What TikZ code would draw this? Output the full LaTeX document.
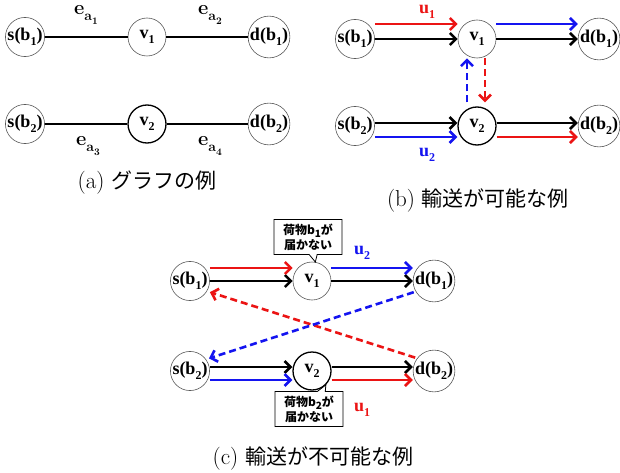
\documentclass[tikz,border=0pt]{standalone}
\usepackage{fontspec}
\setmainfont{Liberation Serif}
\newfontfamily\cjk{Noto Sans CJK JP}
\newfontfamily\lmr{Latin Modern Roman}
\usetikzlibrary{arrows.meta,shapes.callouts}

\definecolor{rred}{RGB}{235,20,20}
\definecolor{bblue}{RGB}{20,20,240}

% lowered index digit / letter
\newcommand\lowidx[2][12]{\raisebox{-0.28em}{\fontsize{#1}{#1}\selectfont #2}}
% edge label e_{a_k}
\newcommand\edgelbl[1]{{\lmr\bfseries e\lowidx[14]{a\lowidx[10]{#1}}}}

\tikzset{
  vtx/.style={circle, draw=black!65, line width=0.6pt, minimum size=38pt,
    inner sep=0pt, font=\fontsize{18}{18}\selectfont\bfseries},
  vtxb/.style={vtx, draw=black, line width=1.3pt},
  link/.style={line width=2.8pt},
  arr/.style={line width=2.6pt, -{Straight Barb[length=6pt,width=12pt]}},
  dsh/.style={dash pattern=on 7pt off 4pt},
  ulbl/.style={font=\fontsize{18}{18}\selectfont\bfseries},
  elbl/.style={font=\fontsize{20}{20}\selectfont},
  capt/.style={font=\fontsize{21}{21}\selectfont},
  note/.style={rectangle callout, draw=black, line width=0.8pt, fill=white,
    minimum width=68pt, minimum height=35pt, inner sep=2pt, align=center,
    callout pointer width=8pt,
    font=\cjk\bfseries\fontsize{12}{15}\selectfont}
}

\begin{document}
\begin{tikzpicture}[x=1pt,y=-1pt]
\useasboundingbox (0,0) rectangle (620,473);

% ---------- (a) graph ----------
\node[vtx]  (sa1) at (25,37)   {s(b\lowidx{1})};
\node[vtx]  (va1) at (147,37)  {v\lowidx{1}};
\node[vtx]  (da1) at (269,37)  {d(b\lowidx{1})};
\node[vtx]  (sa2) at (25,124)  {s(b\lowidx{2})};
\node[vtxb] (va2) at (147,124) {v\lowidx{2}};
\node[vtx]  (da2) at (269,124) {d(b\lowidx{2})};
\draw[link] (sa1) -- (va1);
\draw[link] (va1) -- (da1);
\draw[link] (sa2) -- (va2);
\draw[link] (va2) -- (da2);
\node[elbl] (ea1) at (86,15)  {\edgelbl{1}};
\node[elbl] (ea2) at (210,15) {\edgelbl{2}};
\node[elbl] (ea3) at (88,146) {\edgelbl{3}};
\node[elbl] (ea4) at (210,146) {\edgelbl{4}};
\node[capt] (capa) at (147,183) {\lmr\fontsize{23}{23}\selectfont(a) \cjk\fontsize{21}{21}\selectfont グラフの例};

% ---------- (b) feasible ----------
\node[vtx]  (sb1) at (355,39)  {s(b\lowidx{1})};
\node[vtx]  (vb1) at (477,39)  {v\lowidx{1}};
\node[vtx]  (db1) at (599,39)  {d(b\lowidx{1})};
\node[vtx]  (sb2) at (355,126) {s(b\lowidx{2})};
\node[vtxb] (vb2) at (477,126) {v\lowidx{2}};
\node[vtx]  (db2) at (599,126) {d(b\lowidx{2})};
\draw[arr] (sb1) -- (vb1);
\draw[arr] (vb1) -- (db1);
\draw[arr,rred]  ([yshift=15pt]sb1.east) -- ([yshift=15pt]vb1.west);
\draw[arr,bblue] ([yshift=15pt]vb1.east) -- ([yshift=15pt]db1.west);
\draw[arr] ([yshift=3pt]sb2.east) -- ([yshift=3pt]vb2.west);
\draw[arr] ([yshift=3pt]vb2.east) -- ([yshift=3pt]db2.west);
\draw[arr,bblue] ([yshift=-11pt]sb2.east) -- ([yshift=-11pt]vb2.west);
\draw[arr,rred]  ([yshift=-11pt]vb2.east) -- ([yshift=-11pt]db2.west);
\draw[arr,bblue,dsh] ([xshift=-10pt,yshift=4pt]vb2.north) -- ([xshift=-10pt]vb1.south);
\draw[arr,rred,dsh]  ([xshift=8pt]vb1.south) -- ([xshift=8pt,yshift=4pt]vb2.north);
\node[ulbl,rred]  (ub1) at (427,12)  {u\lowidx{1}};
\node[ulbl,bblue] (ub2) at (427,155) {u\lowidx{2}};
\node[capt] (capb) at (478,200) {\lmr\fontsize{23}{23}\selectfont(b) \cjk\fontsize{21}{21}\selectfont 輸送が可能な例};

% ---------- (c) infeasible ----------
\node[vtx]  (sc1) at (190,281) {s(b\lowidx{1})};
\node[vtx]  (vc1) at (312,281) {v\lowidx{1}};
\node[vtx]  (dc1) at (434,281) {d(b\lowidx{1})};
\node[vtx]  (sc2) at (190,371) {s(b\lowidx{2})};
\node[vtxb] (vc2) at (312,371) {v\lowidx{2}};
\node[vtx]  (dc2) at (434,371) {d(b\lowidx{2})};
\draw[arr] (sc1) -- (vc1);
\draw[arr] (vc1) -- (dc1);
\draw[arr,rred]  ([yshift=13pt]sc1.east) -- ([yshift=13pt]vc1.west);
\draw[arr,bblue] ([yshift=13pt]vc1.east) -- ([yshift=13pt]dc1.west);
\draw[arr] ([yshift=4pt]sc2.east) -- ([yshift=4pt]vc2.west);
\draw[arr] ([yshift=4pt]vc2.east) -- ([yshift=4pt]dc2.west);
\draw[arr,bblue] ([yshift=-9pt]sc2.east) -- ([yshift=-9pt]vc2.west);
\draw[arr,rred]  ([yshift=-9pt]vc2.east) -- ([yshift=-9pt]dc2.west);
\draw[arr,rred,dsh,shorten <=2pt,shorten >=3pt]  (dc2.143) -- (sc1.-31);
\draw[arr,bblue,dsh,shorten <=2pt,shorten >=3pt] (dc1.210) -- (sc2.36);
\node[note, callout absolute pointer={(vc1.80)}]  (nt1) at (308,237) {荷物b\lowidx[10]{1}が\\届かない};
\node[note, callout absolute pointer={(vc2.-45)}] (nt2) at (309,409) {荷物b\lowidx[10]{2}が\\届かない};
\node[ulbl,bblue] (uc2) at (362,253) {u\lowidx{2}};
\node[ulbl,rred]  (uc1) at (362,410) {u\lowidx{1}};
\node[capt] (capc) at (313,458) {\lmr\fontsize{23}{23}\selectfont(c) \cjk\fontsize{21}{21}\selectfont 輸送が不可能な例};
\end{tikzpicture}
\end{document}
